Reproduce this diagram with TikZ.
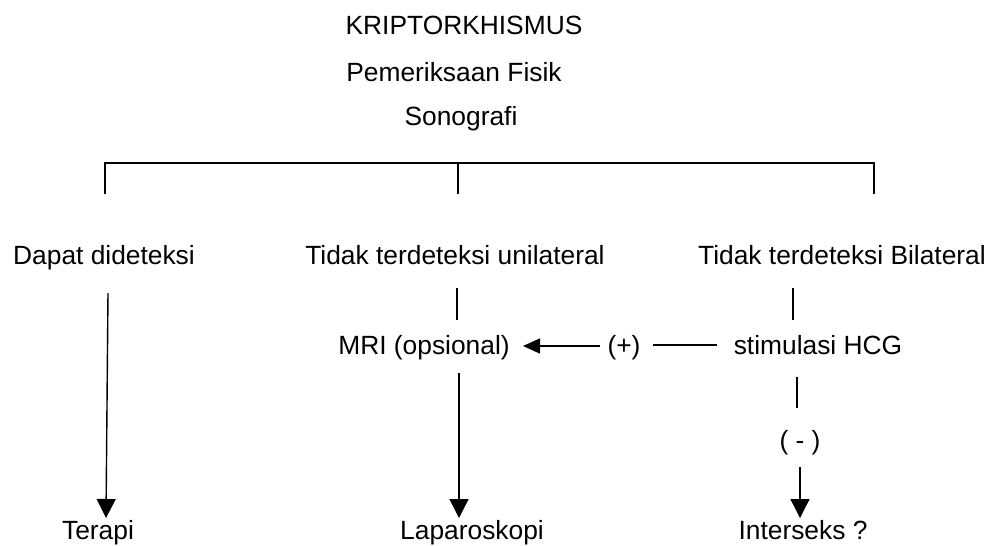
\documentclass[tikz,border=0pt]{standalone}
\usepackage{fontspec}
\setmainfont{Liberation Sans}
\usetikzlibrary{arrows.meta}
\tikzset{
  flowtext/.style={font=\fontsize{15pt}{18pt}\selectfont, inner sep=0pt, text height=10.7pt, text depth=0pt},
  flowline/.style={line width=0.8pt, draw=black},
  flowarrow/.style={flowline, -{Triangle[length=0.38cm, width=0.38cm]}},
  sidearrow/.style={flowline, -{Triangle[length=0.34cm, width=0.3cm]}}
}

\begin{document}
\begin{tikzpicture}[x=0.02cm, y=-0.02cm, every node/.style={flowtext}]
\useasboundingbox (0,0) rectangle (995,545);
% heading
\node (title) at (464,25) {KRIPTORKHISMUS};
\node (fisik) at (454,72) {Pemeriksaan Fisik};
\node (sono) at (461,116) {Sonografi};
% branch bar
\coordinate (barL) at (105,194);
\coordinate (barM) at (458,194);
\coordinate (barR) at (874,194);
\draw[flowline] (barL) |- (barR |- 0,163) -- (barR);
\draw[flowline] (barM |- 0,163) -- (barM);
% second level
\node (dapat) at (104,255) {Dapat dideteksi};
\node (unil) at (455,255) {Tidak terdeteksi unilateral};
\node (bilat) at (842,255) {Tidak terdeteksi Bilateral};
\node (mri) at (424,345) {MRI (opsional)};
\node (plus) at (624,345) {(+)};
\node (hcg) at (818,345) {stimulasi HCG};
\node (minus) at (800,440) {( - )};
% bottom
\node (terapi) at (98,530) {Terapi};
\node (lapar) at (472,530) {Laparoskopi};
\node (inter) at (803,530) {Interseks ?};
% connectors
\coordinate (u1) at (457,288);
\coordinate (u2) at (457,320);
\coordinate (b1) at (793,288);
\coordinate (b2) at (793,320);
\coordinate (h1) at (797,377);
\coordinate (h2) at (797,408);
\coordinate (d1) at (108,293);
\coordinate (d2) at (106,518);
\coordinate (l1) at (459,373);
\coordinate (l2) at (459,518);
\coordinate (i1) at (800,467);
\coordinate (i2) at (800,518);
\coordinate (p1) at (717,345);
\coordinate (p2) at (653,345);
\coordinate (m1) at (600,346);
\coordinate (m2) at (523,346);
\draw[flowline] (u1) -- (u2);
\draw[flowline] (b1) -- (b2);
\draw[flowline] (h1) -- (h2);
\draw[flowline] (p1) -- (p2);
\draw[flowarrow] (d1) -- (d2);
\draw[flowarrow] (l1) -- (l2);
\draw[flowarrow] (i1) -- (i2);
\draw[sidearrow] (m1) -- (m2);
\end{tikzpicture}
\end{document}
